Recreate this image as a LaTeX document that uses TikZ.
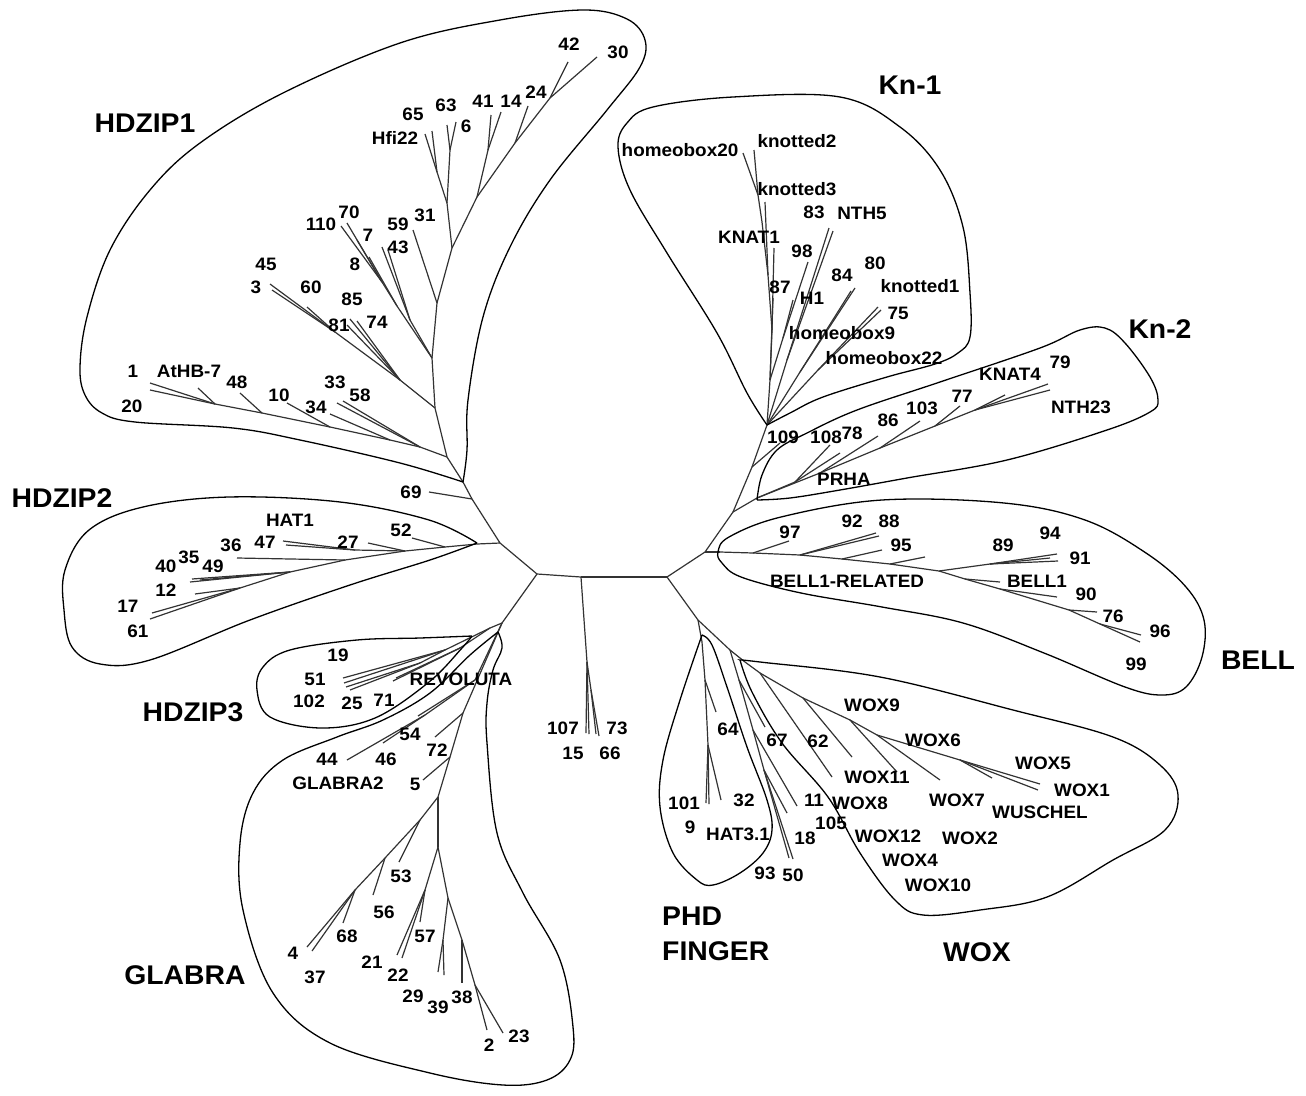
\documentclass[tikz,border=0pt]{standalone}
\usepackage{fontspec}
\setmainfont{Liberation Sans}
\newfontfamily\labfont[FakeStretch=1.05]{Liberation Sans}
\tikzset{
  branch/.style={line width=1.2pt, black!80},
  clade/.style={line width=1.3pt},
  leaf/.style={font=\labfont\bfseries\fontsize{18}{18}\selectfont, inner sep=0pt},
  group/.style={font=\labfont\bfseries\fontsize{27}{27}\selectfont, inner sep=0pt}
}

\begin{document}
\begin{tikzpicture}[x=1pt, y=-1pt]
    \useasboundingbox (0,0) rectangle (1306,1095);
    % backbone and middle clade
    \foreach \n/\x/\y in {L/537/574, M/581/577, R/667/577, A/500/543, B/472/499, C/463/482,
        D/502/623, E/705/552, F/698/620, m1/587/662, m2/591/690, t107/586/733, t15/589/734,
        t73/596/734, t66/599/736, t69/429/492}
        \coordinate (\n) at (\x,\y);
    % HDZIP1
    \foreach \n/\x/\y in {h1/447/457, h2/435/408, h3/432/358, h4/437/303, h5/452/248, h6/447/203,
        h7/450/150, t63/447/125, t6/456/122, h6b/437/172, tHfi/425/134, t65/432/131, h8/477/197,
        h8b/488/150, t41/491/115, t14/501/112, h9/515/143, t24/528/106, h10/550/98, t42/568/62,
        t30/597/57, t31/413/230, h11/410/320, t59/382/247, t43/388/250, h12/397/306, t8/369/257,
        h13/382/282, t110/341/226, t70/347/223, t7/357/240, h14/400/380, h15/335/332, t45/270/284,
        t3/272/290, t60/307/307, t85/350/319, t81/347/325, t74/357/321, h17/420/447, t33/337/403,
        t58/343/401, h18/390/440, t34/330/414, h19/330/427, t10/287/403, h20/262/413, t48/240/393,
        h21/215/404, tAtHB/198/388, t1/150/383, t20/150/390}
        \coordinate (\n) at (\x,\y);
    % HDZIP2, HDZIP3, GLABRA
    \foreach \n/\x/\y in {hz0/477/544, hz1/445/547, t52/412/538, hz2/405/551, t27/368/543,
        hza/355/550, tHAT1/283/541, t47/286/545, hz3/345/560, t36/237/558, hz4/290/572, t35/192/579,
        t40/190/582, t49/200/580, hz5/240/588, t12/195/594, t17/152/613, t61/150/619,
        p0/490/628, p3/460/648, t71/393/681, tREV/396/678, p1/445/650, t19/343/678, t51/344/683,
        p2/420/663, t102/346/687, t25/350/690,
        g1/475/680, t54/418/716, g3/425/715, t44/347/760, t46/383/743, g4/463/713, t72/435/737,
        g5/450/757, t5/423/780, g6/438/797, g7/420/820, t53/399/862, g8/385/858, t56/373/895,
        g9/355/890, t68/343/923, t4/307/947, t37/312/951, g10/438/847, g11/425/890, t21/397/955,
        t22/402/958, t57/420/922, g12/448/898, g13/443/940, t29/438/972, t39/444/975, g14/462/940,
        t38/462/983, g15/475/985, t2/487/1030, t23/503/1033}
        \coordinate (\n) at (\x,\y);
    % Kn-1, Kn-2, BELL
    \foreach \n/\x/\y in {k0/733/512, k1/752/467, t109/780/443, k2/767/425, k3/770/380, k4/772/330,
        k5/768/275, k6/762/222, k7/758/195, thb20/743/153, tkn2/754/150, tkn3/765/202,
        tKNAT1/774/248, t87/773/298, k8/783/338, t98/808/262, tH1/793/300, k10/787/360, t83/829/228,
        tNTH5/833/231, k11/800/372, t84/851/291, t80/855/288, k12/818/370, tkn1/878/307, t75/881/310,
        kn0/757/498, kn1/795/482, t108/830/445, t78/840/453, kn2/820/473, t86/878/436, kn3/880/448,
        t103/920/421, kn4/935/426, t77/960/406, kn5/975/410, tKNAT4/1005/395, t79/1048/384,
        tNTH23/1050/390,
        be0/720/552, b1/753/553, t97/789/541, b2/800/555, t92/876/533, t88/879/536, b3/842/559,
        t95/882/550, b4/890/564, tBR/925/557, b5/939/571, b6/990/564, t94/1057/554, t89/1050/558,
        t91/1058/561, b8/965/579, tBELL1/1000/582, b9/1000/589, t90/1057/597, b10/1069/610,
        t76/1097/612, b11/1100/624, t96/1141/635, t99/1140/642}
        \coordinate (\n) at (\x,\y);
    % PHD FINGER, WOX
    \foreach \n/\x/\y in {ph0/702/642, ph1/705/680, t64/716/712, ph2/708/745, t101/706/803,
        t9/709/804, t32/721/800, w0/730/650, x1/739/680, t67/765/727, x2/753/730, t11/797/806,
        x3/764/770, t18/787/813, t93/789/858, t50/793/859, w1/745/662, y1/760/673, t62/832/777,
        y2/803/698, tW9/852/757, y3/850/720, tW11/897/772, y4/877/735, tW7/940/780, y5/960/760,
        tW6/992/778, tW5/1040/784, tW1/1038/790}
        \coordinate (\n) at (\x,\y);

    % branches
    \foreach \a/\b in {L/M, M/R, L/A, A/B, B/C, L/D, R/E, R/F, B/t69, M/m1, m1/t107, m1/t15,
        m1/m2, m2/t73, m2/t66,
        C/h1, h1/h2, h2/h3, h3/h4, h4/h5, h5/h6, h6/h7, h7/t63, h7/t6, h6/h6b, h6b/tHfi, h6b/t65,
        h5/h8, h8/h8b, h8b/t41, h8b/t14, h8/h9, h9/t24, h9/h10, h10/t42, h10/t30, h4/t31, h3/h11,
        h11/t59, h11/t43, h3/h12, h12/t8, h12/h13, h13/t110, h13/t70, h13/t7, h2/h14, h14/h15,
        h15/t45, h15/t3, h15/t60, h14/t85, h14/t81, h14/t74, h1/h17, h17/t33, h17/t58, h17/h18,
        h18/t34, h18/h19, h19/t10, h19/h20, h20/t48, h20/h21, h21/tAtHB, h21/t1, h21/t20,
        A/hz0, hz0/hz1, hz1/t52, hz1/hz2, hz2/t27, hz2/hza, hza/tHAT1, hza/t47, hz2/hz3, hz3/t36,
        hz3/hz4, hz4/t35, hz4/t40, hz4/t49, hz4/hz5, hz5/t12, hz5/t17, hz5/t61,
        D/p0, p0/p3, p3/t71, p3/tREV, p0/p1, p1/t19, p1/t51, p1/p2, p2/t102, p2/t25,
        D/g1, g1/t54, g1/g3, g3/t44, g3/t46, D/g4, g4/t72, g4/g5, g5/t5, g5/g6, g6/g7, g7/t53,
        g7/g8, g8/t56, g8/g9, g9/t68, g9/t4, g9/t37, g6/g10, g10/g11, g11/t21, g11/t22, g11/t57,
        g10/g12, g12/g13, g13/t29, g13/t39, g12/g14, g14/t38, g14/g15, g15/t2, g15/t23}
        \draw[branch] (\a) -- (\b);
    \foreach \a/\b in {E/k0, k0/k1, k1/t109, k1/k2, k2/k3, k3/k4, k4/k5, k5/k6, k6/k7, k7/thb20,
        k7/tkn2, k5/tkn3, k4/tKNAT1, k3/t87, k3/k8, k8/t98, k8/tH1, k2/k10, k10/t83, k10/tNTH5,
        k2/k11, k11/t84, k11/t80, k2/k12, k12/tkn1, k12/t75,
        k0/kn0, kn0/kn1, kn1/t108, kn1/t78, kn0/kn2, kn2/t86, kn2/kn3, kn3/t103, kn3/kn4, kn4/t77,
        kn4/kn5, kn5/tKNAT4, kn5/t79, kn5/tNTH23,
        E/be0, be0/b1, b1/t97, b1/b2, b2/t92, b2/t88, b2/b3, b3/t95, b3/b4, b4/tBR, b4/b5, b5/b6,
        b6/t94, b6/t89, b6/t91, b5/b8, b8/tBELL1, b8/b9, b9/t90, b9/b10, b10/t76, b10/b11,
        b11/t96, b11/t99,
        F/ph0, ph0/ph1, ph1/t64, ph1/ph2, ph2/t101, ph2/t9, ph2/t32,
        F/w0, w0/x1, x1/t67, x1/x2, x2/t11, x2/x3, x3/t18, x3/t93, x3/t50, w0/w1, w1/y1, y1/t62,
        y1/y2, y2/tW9, y2/y3, y3/tW11, y3/y4, y4/tW7, y4/y5, y5/tW6, y5/tW5, y5/tW1}
        \draw[branch] (\a) -- (\b);

    % clade outlines
    \draw[clade] plot[smooth, tension=0.6] coordinates {(463,482) (467,450) (468,400) (483,317)
        (510,247) (550,180) (607,110) (640,67) (645,40) (627,19) (583,10) (500,20) (400,43)
        (283,93) (200,143) (150,190) (110,250) (87,317) (80,367) (85,395) (102,413) (135,422)
        (233,428) (300,440) (400,463) (463,482)};
    \draw[clade] plot[smooth, tension=0.6] coordinates {(767,425) (747,393) (717,333) (667,253)
        (630,190) (618,147) (627,123) (653,107) (733,97) (840,97) (900,127) (940,170) (963,227)
        (970,293) (970,337) (958,353) (935,364) (887,377) (823,397) (790,413) (767,425)};
    \draw[clade] plot[smooth, tension=0.6] coordinates {(757,500) (762,475) (777,450) (807,433)
        (857,410) (940,382) (1040,348) (1080,330) (1105,328) (1125,343) (1150,377) (1158,400)
        (1150,412) (1107,430) (1007,460) (907,478) (840,490) (790,498) (757,500)};
    \draw[clade] plot[smooth cycle, tension=0.6] coordinates {(718,552) (729,537) (781,517)
        (882,500) (1004,503) (1085,520) (1146,553) (1186,587) (1204,620) (1202,657) (1186,687)
        (1162,695) (1125,687) (1044,653) (963,623) (882,607) (801,593) (741,577) (722,563)};
    \draw[clade] plot[smooth, tension=0.6] coordinates {(477,543) (429,520) (340,502) (229,497)
        (143,507) (89,530) (65,570) (64,610) (72,647) (100,664) (150,660) (250,620) (350,585)
        (430,560) (477,543)};
    \draw[clade] plot[smooth, tension=0.6] coordinates {(472,636) (420,638) (357,640) (290,650)
        (263,667) (257,690) (270,717) (321,728) (375,718) (429,682) (462,648) (472,636)};
    \draw[clade] plot[smooth, tension=0.6] coordinates {(498,632) (502,648) (493,670) (487,703)
        (487,743) (497,833) (523,893) (560,960) (573,1027) (570,1060) (547,1080) (503,1085)
        (430,1073) (330,1043) (273,993) (243,910) (240,843) (253,793) (283,760) (337,737)
        (383,720) (430,693) (470,655) (498,632)};
    \draw[clade] plot[smooth, tension=0.6] coordinates {(702,635) (712,645) (727,687) (747,747)
        (767,800) (772,830) (763,853) (740,873) (713,885) (697,880) (673,853) (660,807) (663,760)
        (680,700) (702,635)};
    \draw[clade] plot[smooth, tension=0.6] coordinates {(740,660) (760,662) (880,677) (1013,710)
        (1113,737) (1160,765) (1178,795) (1165,830) (1113,860) (1047,897) (980,910) (923,915)
        (895,900) (860,853) (828,797) (782,743) (752,692) (740,660)};

    % leaf labels
    \foreach \x/\y/\t [count=\i] in {569/44/42, 618/52/30, 413/114/65, 446/105/63, 483/101/41,
        511/101/14, 536/92/24, 466/126/6, 395/138/Hfi22, 321/224/110, 349/212/70, 368/235/7,
        398/224/59, 425/215/31, 398/247/43, 266/264/45, 256/287/3, 311/287/60, 355/264/8,
        352/299/85, 339/325/81, 377/322/74, 133/371/1, 189/371/AtHB-7, 237/382/48, 279/395/10,
        335/382/33, 360/395/58, 132/406/20, 316/407/34, 411/492/69,
        290/520/HAT1, 401/530/52, 265/542/47, 348/542/27, 231/545/36, 189/557/35, 166/566/40,
        213/566/49, 166/590/12, 128/606/17, 138/631/61,
        338/655/19, 315/679/51, 309/701/102, 352/703/25, 384/700/71, 461/679/REVOLUTA,
        410/734/54, 437/750/72, 327/759/44, 386/759/46, 338/783/GLABRA2, 415/784/5, 401/876/53,
        384/912/56, 347/936/68, 425/936/57, 293/953/4, 372/962/21, 398/975/22, 315/977/37,
        413/996/29, 438/1007/39, 462/997/38, 489/1045/2, 519/1036/23,
        563/728/107, 617/728/73, 573/753/15, 610/753/66}
        \node[leaf] (lf\i) at (\x,\y) {\t};
    \foreach \x/\y/\t [count=\i] in {680/150/homeobox20, 797/141/knotted2, 797/189/knotted3,
        749/237/KNAT1, 814/212/83, 862/213/NTH5, 802/251/98, 842/275/84, 875/263/80,
        920/286/knotted1, 780/287/87, 812/298/H1, 842/333/homeobox9, 898/313/75,
        884/358/homeobox22,
        783/437/109, 826/437/108, 852/433/78, 888/420/86, 922/408/103, 962/396/77, 1010/374/KNAT4,
        1060/362/79, 1081/407/NTH23, 844/479/PRHA,
        790/532/97, 852/521/92, 889/521/88, 901/545/95, 1003/545/89, 1050/533/94, 1080/558/91,
        847/581/BELL1-RELATED, 1037/581/BELL1, 1086/594/90, 1113/616/76, 1160/631/96, 1136/664/99,
        728/729/64, 684/803/101, 744/800/32, 690/827/9, 738/834/HAT3.1, 765/873/93, 793/875/50,
        777/740/67, 818/741/62, 814/800/11, 805/838/18, 831/823/105, 860/803/WOX8, 872/705/WOX9,
        933/740/WOX6, 877/777/WOX11, 1043/763/WOX5, 1082/790/WOX1, 957/800/WOX7,
        1040/812/WUSCHEL, 888/836/WOX12, 970/838/WOX2, 910/860/WOX4, 938/885/WOX10}
        \node[leaf] (rt\i) at (\x,\y) {\t};

    % clade names
    \node[group] (hdzip1) at (145,123) {HDZIP1};
    \node[group] (kn1) at (910,85) {Kn-1};
    \node[group] (kn2) at (1160,329) {Kn-2};
    \node[group] (hdzip2) at (62,498) {HDZIP2};
    \node[group] (hdzip3) at (193,712) {HDZIP3};
    \node[group] (bell) at (1258,660) {BELL};
    \node[group] (glabra) at (185,975) {GLABRA};
    \node[group, anchor=west] (phd) at (662,916) {PHD};
    \node[group, anchor=west] (finger) at (662,951) {FINGER};
    \node[group] (wox) at (977,952) {WOX};
\end{tikzpicture}
\end{document}
